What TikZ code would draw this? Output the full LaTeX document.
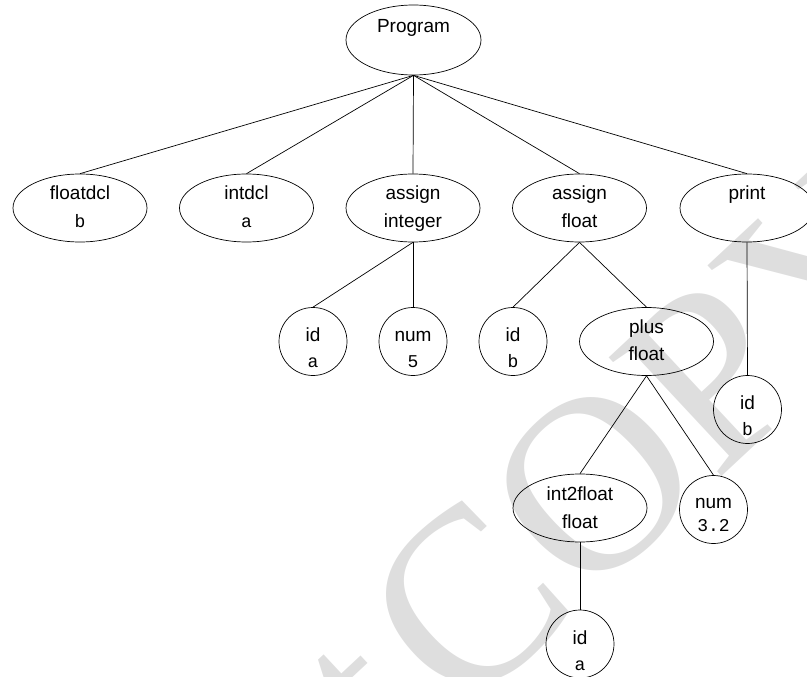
\documentclass[tikz,border=0pt]{standalone}
\usepackage{fontspec}
\setmainfont{Liberation Sans}
\setmonofont{Liberation Mono}
\newfontfamily\wmfont{Liberation Serif}
\usetikzlibrary{shapes.geometric}
\begin{document}
\begin{tikzpicture}[x=1pt,y=1pt,
  ell/.style={draw, ellipse, line width=0.7pt, minimum width=134pt, minimum height=68pt, inner sep=0pt},
  circ/.style={draw, circle, line width=0.7pt, minimum size=68pt, inner sep=0pt},
  lab/.style={font=\fontsize{19}{19}\selectfont, inner sep=0pt, anchor=base},
  mono/.style={font=\fontsize{18}{18}\selectfont\ttfamily, inner sep=0pt, anchor=base},
  edge/.style={line width=0.7pt},
  wm/.style={text=black!13, font=\wmfont\fontsize{250}{250}\selectfont, rotate=43, inner sep=0pt}]
\useasboundingbox (0,0) rectangle (807,-677);
\begin{scope}
\clip (0,0) rectangle (807,-677);
\node[wm] (water) at (650,-432) {\makebox[0pt][r]{Do not\hspace{0.1em}}COPY};
\end{scope}
% nodes
\node[ell, minimum width=135pt, minimum height=70pt] (prog) at (413.5,-40) {};
\node[ell] (fdcl) at (80,-208) {};
\node[ell] (idcl) at (246.5,-208) {};
\node[ell] (asi) at (413,-208) {};
\node[ell] (asf) at (579.5,-208) {};
\node[ell] (prt) at (747,-208) {};
\node[circ] (ida) at (313,-341.5) {};
\node[circ] (num5) at (413,-341.5) {};
\node[circ] (idb) at (513,-341.5) {};
\node[ell] (plus) at (646.5,-341.5) {};
\node[circ] (idb2) at (747.5,-409.5) {};
\node[ell] (i2f) at (580,-508) {};
\node[circ] (num32) at (713.5,-509.5) {};
\node[circ] (ida2) at (580,-644) {};
% labels
\node[lab] (tprog) at ([yshift=7.7]prog.center) {Program};
\node[lab] (tfdcl) at ([yshift=8]fdcl.center) {floatdcl};
\node[mono] (tfdclb) at ([yshift=-19]fdcl.center) {b};
\node[lab] (tidcl) at ([yshift=8]idcl.center) {intdcl};
\node[mono] (tidcla) at ([yshift=-19]idcl.center) {a};
\node[lab] (tasi) at ([yshift=8]asi.center) {assign};
\node[lab] (tasib) at ([yshift=-19]asi.center) {integer};
\node[lab] (tasf) at ([yshift=8]asf.center) {assign};
\node[lab] (tasfb) at ([yshift=-19]asf.center) {float};
\node[lab] (tprt) at ([yshift=8]prt.center) {print};
\node[lab] (tida) at ([yshift=0]ida.center) {id};
\node[mono] (tidab) at ([yshift=-26]ida.center) {a};
\node[lab] (tnum5) at ([yshift=0]num5.center) {num};
\node[mono] (tnum5b) at ([yshift=-26]num5.center) {5};
\node[lab] (tidb) at ([yshift=0]idb.center) {id};
\node[mono] (tidbb) at ([yshift=-26]idb.center) {b};
\node[lab] (tplus) at ([yshift=8]plus.center) {plus};
\node[lab] (tplusb) at ([yshift=-18.5]plus.center) {float};
\node[lab] (tidb2) at ([yshift=0]idb2.center) {id};
\node[mono] (tidb2b) at ([yshift=-26]idb2.center) {b};
\node[lab] (ti2f) at ([yshift=7.3]i2f.center) {int2float};
\node[lab] (ti2fb) at ([yshift=-20.3]i2f.center) {float};
\node[lab] (tnum32) at ([yshift=1.5]num32.center) {num};
\node[mono] (tnum32b) at ([yshift=-22]num32.center) {3.2};
\node[lab] (tida2) at ([yshift=0]ida2.center) {id};
\node[mono] (tida2b) at ([yshift=-26]ida2.center) {a};
% edges
\draw[edge] (prog.south) -- (fdcl.north);
\draw[edge] (prog.south) -- (idcl.north);
\draw[edge] (prog.south) -- (asi.north);
\draw[edge] (prog.south) -- (asf.north);
\draw[edge] (prog.south) -- (prt.north);
\draw[edge] (asi.south) -- (ida.north);
\draw[edge] (asi.south) -- (num5.north);
\draw[edge] (asf.south) -- (idb.north);
\draw[edge] (asf.south) -- (plus.north);
\draw[edge] (prt.south) -- (idb2.north);
\draw[edge] (plus.south) -- (i2f.north);
\draw[edge] (plus.south) -- (num32.north);
\draw[edge] (i2f.south) -- (ida2.north);
\end{tikzpicture}
\end{document}
